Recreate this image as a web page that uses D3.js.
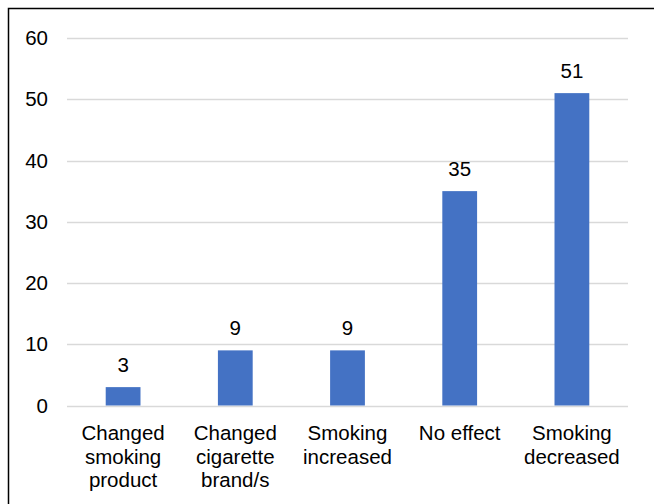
<!DOCTYPE html>
<html>
<head>
<meta charset="utf-8">
<script src="https://cdn.jsdelivr.net/npm/d3@7"></script>
<style>
  html, body { margin: 0; padding: 0; background: #fff; }
  svg { display: block; }
</style>
</head>
<body>
<svg id="chart" width="654" height="504"></svg>
<script>
// Reported effect on smoking
const categories = [
  ["Changed", "smoking", "product"],
  ["Changed", "cigarette", "brand/s"],
  ["Smoking", "increased"],
  ["No effect"],
  ["Smoking", "decreased"]
];
const values = [3, 9, 9, 35, 51];
const yTicks = [0, 10, 20, 30, 40, 50, 60];

const W = 654, H = 504;
const margin = { left: 67, right: 26, top: 38, bottom: 98.5 };
const font = "'Liberation Sans', Arial, sans-serif";

const svg = d3.select("#chart");

// frame around the chart area
svg.append("rect")
  .attr("x", 8.5).attr("y", 8.5)
  .attr("width", 680).attr("height", 520)
  .attr("fill", "none")
  .attr("stroke", "#000")
  .attr("stroke-width", 1.5);

const keys = categories.map((c, i) => i);
const x = d3.scaleBand()
  .domain(keys)
  .range([margin.left, W - margin.right])
  .paddingInner(0.69)
  .paddingOuter(0.345);

const y = d3.scaleLinear()
  .domain([0, 60])
  .range([H - margin.bottom, margin.top]);

// gridlines
svg.append("g")
  .selectAll("line")
  .data(yTicks)
  .join("line")
  .attr("x1", margin.left)
  .attr("x2", W - margin.right)
  .attr("y1", d => Math.round(y(d)) + 0.5)
  .attr("y2", d => Math.round(y(d)) + 0.5)
  .attr("stroke", "#d9d9d9")
  .attr("stroke-width", 1.5);

// y axis labels
const yAxis = d3.axisLeft(y).tickValues(yTicks).tickSize(0).tickPadding(0);
const gy = svg.append("g")
  .attr("transform", `translate(${margin.left - 19},0)`)
  .call(yAxis);
gy.select(".domain").remove();
gy.selectAll("text")
  .attr("font-family", font)
  .attr("font-size", "20.5px")
  .attr("fill", "#000");

// bars
svg.append("g")
  .selectAll("rect")
  .data(values)
  .join("rect")
  .attr("x", (d, i) => x(i))
  .attr("width", x.bandwidth())
  .attr("y", d => y(d))
  .attr("height", d => y(0) - y(d))
  .attr("fill", "#4472c4");

// value labels
svg.append("g")
  .selectAll("text")
  .data(values)
  .join("text")
  .attr("x", (d, i) => x(i) + x.bandwidth() / 2)
  .attr("y", d => y(d) - 15)
  .attr("text-anchor", "middle")
  .attr("font-family", font)
  .attr("font-size", "20.5px")
  .attr("fill", "#000")
  .text(d => d);

// category labels
const cat = svg.append("g")
  .selectAll("text")
  .data(categories)
  .join("text")
  .attr("x", (d, i) => x(i) + x.bandwidth() / 2)
  .attr("y", 440)
  .attr("text-anchor", "middle")
  .attr("font-family", font)
  .attr("font-size", "20.5px")
  .attr("fill", "#000");
cat.selectAll("tspan")
  .data(d => d)
  .join("tspan")
  .attr("x", function () { return d3.select(this.parentNode).attr("x"); })
  .attr("dy", (d, i) => i === 0 ? 0 : 23.5)
  .text(d => d);
</script>
</body>
</html>
